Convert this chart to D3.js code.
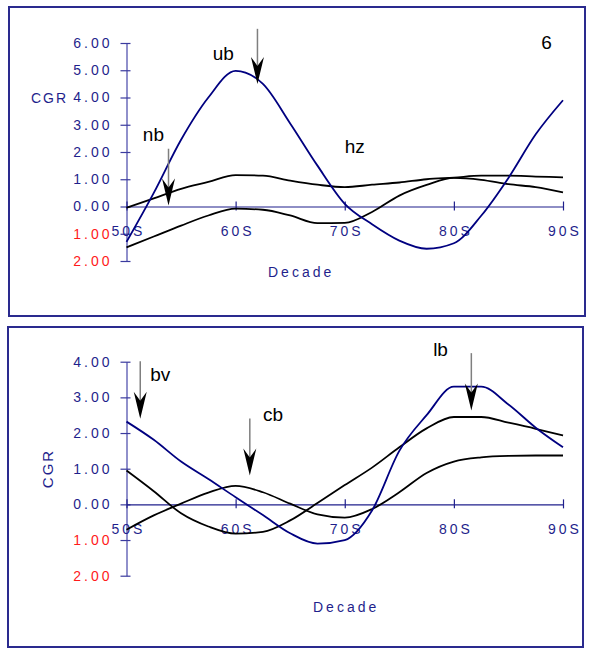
<!DOCTYPE html>
<html>
<head>
<meta charset="utf-8">
<script src="https://cdn.jsdelivr.net/npm/d3@7"></script>
<style>
  body { margin: 0; background: #fff; }
  svg { display: block; }
</style>
</head>
<body>
<div id="chart"></div>
<script>
// decade positions (every 2.5 years)
const decades = [50, 52.5, 55, 57.5, 60, 62.5, 65, 67.5, 70, 72.5, 75, 77.5, 80, 82.5, 85, 87.5, 90];
const decadeTicks = [50, 60, 70, 80, 90];
const decadeLabels = ['50S', '60S', '70S', '80S', '90S'];

// upper panel
const topTicks = [6, 5, 4, 3, 2, 1, 0, -1, -2];
const topBlue   = [-1.3, 0.5, 2.45, 4.0, 4.98, 4.5, 3.05, 1.5, 0.1, -0.65, -1.25, -1.55, -1.35, -0.34, 1.05, 2.65, 3.9];
const topBlackA = [-0.05, 0.3, 0.65, 0.9, 1.15, 1.13, 0.95, 0.8, 0.71, 0.8, 0.88, 1.0, 1.06, 1.13, 1.13, 1.1, 1.07];
const topBlackB = [-1.5, -1.1, -0.7, -0.33, -0.08, -0.12, -0.33, -0.61, -0.6, -0.2, 0.4, 0.79, 1.05, 0.98, 0.82, 0.71, 0.52];
const topNotes = [
  { text: 'ub', x: 57.9, y: 5.38 },
  { text: 'nb', x: 51.5, y: 2.42 },
  { text: 'hz', x: 70.0, y: 1.98 },
  { text: '6',  x: 88.0, y: 5.79 }
];
const topArrows = [
  { x: 62.0, from: 6.52, to: 4.5 },
  { x: 53.85, from: 2.12, to: 0.04 }
];

// lower panel
const botTicks = [4, 3, 2, 1, 0, -1, -2];
const botBlue   = [2.32, 1.81, 1.2, 0.71, 0.2, -0.3, -0.81, -1.1, -1.0, -0.17, 1.5, 2.5, 3.3, 3.3, 2.8, 2.15, 1.6];
const botBlackA = [0.95, 0.37, -0.25, -0.62, -0.82, -0.77, -0.45, 0.04, 0.54, 1.03, 1.6, 2.13, 2.45, 2.45, 2.29, 2.12, 1.93];
const botBlackB = [-0.71, -0.31, 0.02, 0.33, 0.52, 0.34, 0.02, -0.28, -0.37, -0.13, 0.34, 0.88, 1.2, 1.32, 1.36, 1.37, 1.37];
const botNotes = [
  { text: 'bv', x: 52.17, y: 3.47 },
  { text: 'cb', x: 62.5, y: 2.35 },
  { text: 'lb', x: 78.1, y: 4.15 }
];
const botArrows = [
  { x: 51.26, from: 4.01, to: 2.4 },
  { x: 61.3, from: 2.41, to: 0.81 },
  { x: 81.6, from: 4.24, to: 2.63 }
];

const navy = '#1f1f8c';
const red = '#ff1a1a';
const font = 'Arial, "Liberation Sans", sans-serif';

const svg = d3.select('#chart').append('svg')
  .attr('width', 589)
  .attr('height', 654);

const x = d3.scaleLinear().domain([50, 90]).range([126.5, 563]);

function drawPanel(opt) {
  const g = svg.append('g');

  g.append('rect')
    .attr('x', opt.box[0]).attr('y', opt.box[1])
    .attr('width', opt.box[2]).attr('height', opt.box[3])
    .attr('fill', 'none')
    .attr('stroke', '#2a2a8e')
    .attr('stroke-width', 2);

  const y = d3.scaleLinear().domain([-2, opt.ticks[0]]).range(opt.yRange);

  // y axis, ticks cross the line
  const yAxis = g.append('g')
    .attr('transform', `translate(${x(50)},0)`)
    .call(d3.axisLeft(y).tickValues(opt.ticks).tickSize(6).tickSizeOuter(0).tickPadding(8)
      .tickFormat(d => Math.abs(d).toFixed(2)));
  yAxis.select('.domain').attr('stroke', '#4646a8').attr('stroke-width', 1.2);
  yAxis.selectAll('.tick line').attr('x1', 4).attr('stroke', '#3a3a9e').attr('stroke-width', 1.2);
  yAxis.selectAll('.tick text')
    .attr('fill', d => d < 0 ? red : navy)
    .style('font-family', font)
    .style('font-size', '14px')
    .style('letter-spacing', '3px');

  // x axis sits on zero
  const xAxis = g.append('g')
    .attr('transform', `translate(0,${y(0)})`)
    .call(d3.axisBottom(x).tickValues(decadeTicks).tickSize(4).tickSizeOuter(0).tickPadding(16)
      .tickFormat((d, i) => decadeLabels[i]));
  xAxis.select('.domain').attr('stroke', navy).attr('stroke-width', 1.2);
  xAxis.selectAll('.tick line').attr('y1', -5).attr('stroke', navy).attr('stroke-width', 1.2);
  xAxis.selectAll('.tick text')
    .attr('fill', navy)
    .attr('dx', '1.5px')
    .style('font-family', font)
    .style('font-size', '14px')
    .style('letter-spacing', '3px');

  // axis titles
  const cgr = g.append('text')
    .attr('fill', navy)
    .style('font-family', font)
    .style('font-size', opt.cgrSize)
    .style('letter-spacing', opt.cgrSpacing)
    .text('CGR');
  if (opt.cgrRotate) {
    cgr.attr('text-anchor', 'middle')
      .attr('transform', `translate(${opt.cgrPos[0]},${opt.cgrPos[1]}) rotate(-90)`);
  } else {
    cgr.attr('text-anchor', 'end').attr('x', opt.cgrPos[0]).attr('y', opt.cgrPos[1]);
  }

  g.append('text')
    .attr('x', opt.decadePos[0]).attr('y', opt.decadePos[1])
    .attr('fill', navy)
    .style('font-family', font)
    .style('font-size', '14px')
    .style('letter-spacing', '3px')
    .text('Decade');

  // series
  const line = d3.line()
    .x((d, i) => x(decades[i]))
    .y(d => y(d))
    .curve(d3.curveMonotoneX);

  opt.series.forEach(s => {
    g.append('path')
      .datum(s.values)
      .attr('d', line)
      .attr('fill', 'none')
      .attr('stroke', s.color)
      .attr('stroke-width', 1.8)
      .attr('stroke-linejoin', 'round');
  });

  // annotation arrows
  opt.arrows.forEach(a => {
    const ax = x(a.x), y0 = y(a.from), y1 = y(a.to);
    g.append('line')
      .attr('x1', ax).attr('x2', ax)
      .attr('y1', y0).attr('y2', y1 - 12)
      .attr('stroke', '#7f7f7f')
      .attr('stroke-width', 1.5);
    g.append('path')
      .attr('transform', `translate(${ax},${y1})`)
      .attr('d', 'M0,0 L-6.5,-27 L0,-18 L6.5,-27 Z')
      .attr('fill', '#000');
  });

  opt.notes.forEach(n => {
    g.append('text')
      .attr('x', x(n.x)).attr('y', y(n.y))
      .attr('fill', '#000')
      .style('font-family', font)
      .style('font-size', '19px')
      .text(n.text);
  });
}

drawPanel({
  box: [9, 7, 576, 309],
  ticks: topTicks,
  yRange: [261, 43],
  series: [
    { values: topBlackA, color: '#000' },
    { values: topBlackB, color: '#000' },
    { values: topBlue, color: '#000080' }
  ],
  notes: topNotes,
  arrows: topArrows,
  cgrPos: [68, 102.5],
  cgrSize: '14px',
  cgrSpacing: '2px',
  cgrRotate: false,
  decadePos: [268, 277]
});

drawPanel({
  box: [8, 327, 575, 320],
  ticks: botTicks,
  yRange: [575.7, 361.7],
  series: [
    { values: botBlackA, color: '#000' },
    { values: botBlackB, color: '#000' },
    { values: botBlue, color: '#000080' }
  ],
  notes: botNotes,
  arrows: botArrows,
  cgrPos: [53, 468.5],
  cgrSize: '15px',
  cgrSpacing: '2px',
  cgrRotate: true,
  decadePos: [313, 612]
});
</script>
</body>
</html>
